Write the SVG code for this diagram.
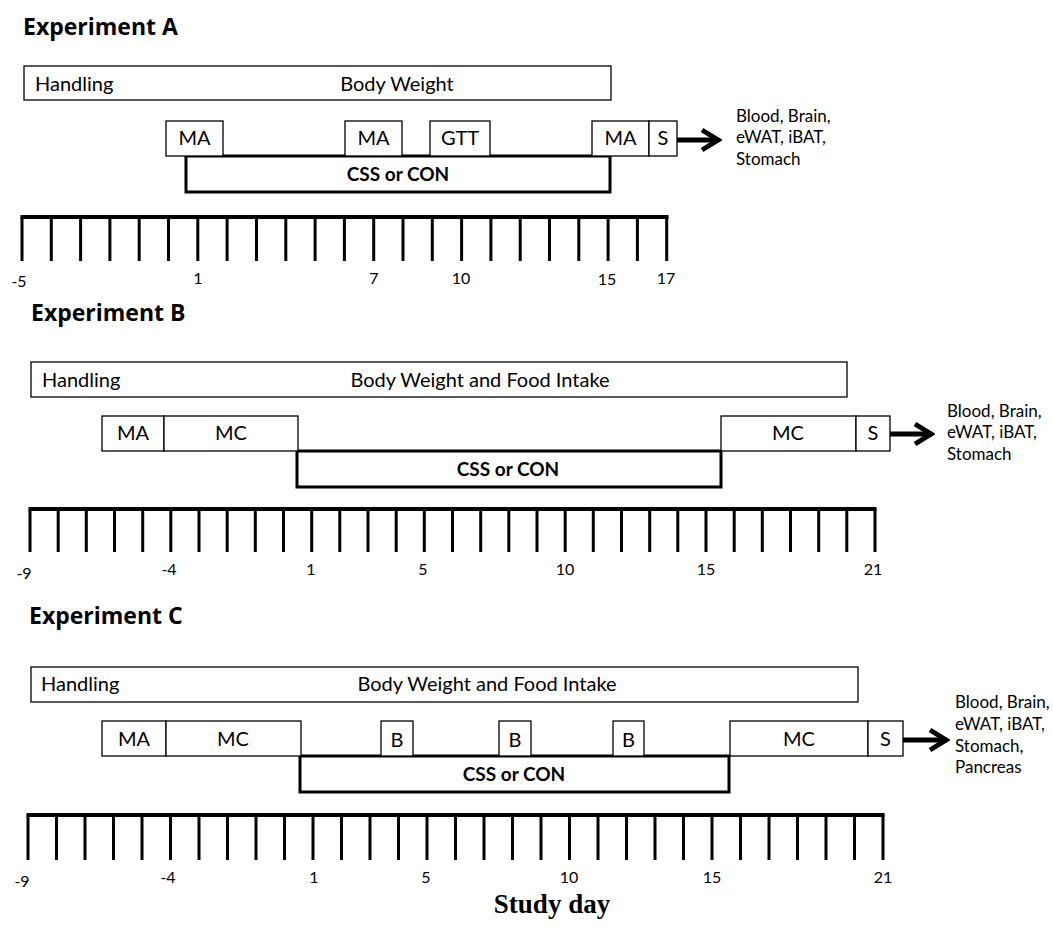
<svg xmlns="http://www.w3.org/2000/svg" width="1053" height="931" viewBox="0 0 1053 931">
<style>
.t{font-family:Lato,"Open Sans","Liberation Sans",sans-serif;font-size:20px;fill:#000}
.h{font-family:"Open Sans",Lato,"Liberation Sans",sans-serif;font-size:23px;font-weight:bold;fill:#000}
.c{font-family:Lato,"Open Sans","Liberation Sans",sans-serif;font-size:19px;font-weight:bold;fill:#000;text-anchor:middle}
.m{text-anchor:middle}
.s{font-family:Lato,"Open Sans","Liberation Sans",sans-serif;font-size:17px;fill:#000}
.n{font-family:Lato,"Open Sans","Liberation Sans",sans-serif;font-size:16px;fill:#000;text-anchor:middle}
.bx{fill:#fff;stroke:#000;stroke-width:1.3}
.bk{fill:#fff;stroke:#000;stroke-width:3}
.ar{fill:none;stroke:#000;stroke-width:5}
.tk{stroke:#000;stroke-width:3}
.bar{stroke:#000;stroke-width:4}
</style>
<defs>
<marker id="chev" viewBox="0 0 24 26" refX="21" refY="13" markerWidth="24" markerHeight="26" orient="auto" markerUnits="userSpaceOnUse">
<path d="M4,3 L20,13 L4,23" fill="none" stroke="#000" stroke-width="5"/>
</marker>
</defs>

<!-- Experiment A -->
<g id="expA">
<text class="h" x="23" y="35">Experiment A</text>
<g id="A-handling"><rect class="bx" x="24" y="66" width="587" height="34"/><text class="t" x="35" y="91">Handling</text><text class="t m" x="397" y="91">Body Weight</text></g>
<g id="A-css"><rect class="bk" x="186" y="156" width="424" height="36"/><text class="c" x="398" y="181">CSS or CON</text></g>
<g id="A-ma1"><rect class="bx" x="166" y="121" width="57" height="35"/><text class="t m" x="194.5" y="145">MA</text></g>
<g id="A-ma2"><rect class="bx" x="345" y="121" width="57" height="35"/><text class="t m" x="373.5" y="145">MA</text></g>
<g id="A-gtt"><rect class="bx" x="430" y="121" width="60" height="35"/><text class="t m" x="460" y="145">GTT</text></g>
<g id="A-ma3"><rect class="bx" x="592" y="121" width="57" height="35"/><text class="t m" x="620.5" y="145">MA</text></g>
<g id="A-s"><rect class="bx" x="649" y="121" width="28" height="35"/><text class="t m" x="663" y="145">S</text></g>
<g id="A-out"><text class="s" x="736" y="122">Blood, Brain,</text><text class="s" x="736" y="143">eWAT, iBAT,</text><text class="s" x="736" y="165">Stomach</text></g>
<g id="A-axis">
<line class="bar" x1="20.5" y1="217" x2="668.5" y2="217"/>
<path class="tk" d="M22,217V261M51.3,217V261M80.6,217V261M109.9,217V261M139.2,217V261M168.5,217V261M197.8,217V261M227.1,217V261M256.5,217V261M285.8,217V261M315.1,217V261M344.4,217V261M373.7,217V261M403,217V261M432.3,217V261M461.6,217V261M490.9,217V261M520.2,217V261M549.5,217V261M578.8,217V261M608.1,217V261M637.4,217V261M666.7,217V261"/>
<text class="n" x="19" y="287">-5</text>
<text class="n" x="198" y="284">1</text>
<text class="n" x="374" y="284">7</text>
<text class="n" x="461" y="284">10</text>
<text class="n" x="607" y="285">15</text>
<text class="n" x="666" y="284">17</text>
</g>
</g>

<!-- Experiment B -->
<g id="expB">
<text class="h" x="31" y="321">Experiment B</text>
<g id="B-handling"><rect class="bx" x="31" y="362" width="816" height="35"/><text class="t" x="42" y="387">Handling</text><text class="t m" x="480" y="387">Body Weight and Food Intake</text></g>
<g id="B-css"><rect class="bk" x="297" y="451" width="424" height="36"/><text class="c" x="508" y="476">CSS or CON</text></g>
<g id="B-ma"><rect class="bx" x="102" y="416" width="62" height="35"/><text class="t m" x="133" y="440">MA</text></g>
<g id="B-mc1"><rect class="bx" x="164" y="416" width="134" height="35"/><text class="t m" x="231" y="440">MC</text></g>
<g id="B-mc2"><rect class="bx" x="721" y="416" width="135" height="35"/><text class="t m" x="788" y="440">MC</text></g>
<g id="B-s"><rect class="bx" x="856" y="416" width="34" height="35"/><text class="t m" x="873" y="440">S</text></g>
<g id="B-out"><text class="s" x="947" y="417">Blood, Brain,</text><text class="s" x="947" y="438">eWAT, iBAT,</text><text class="s" x="947" y="460">Stomach</text></g>
<g id="B-axis">
<line class="bar" x1="28.5" y1="509" x2="876.5" y2="509"/>
<path class="tk" d="M30,509V552M58.2,509V552M86.3,509V552M114.5,509V552M142.7,509V552M170.8,509V552M199,509V552M227.2,509V552M255.3,509V552M283.5,509V552M311.7,509V552M339.8,509V552M368,509V552M396.2,509V552M424.3,509V552M452.5,509V552M480.7,509V552M508.8,509V552M537,509V552M565.2,509V552M593.3,509V552M621.5,509V552M649.7,509V552M677.8,509V552M706,509V552M734.2,509V552M762.3,509V552M790.5,509V552M818.7,509V552M846.8,509V552M875,509V552"/>
<text class="n" x="24" y="579">-9</text>
<text class="n" x="169" y="575">-4</text>
<text class="n" x="311" y="575">1</text>
<text class="n" x="423" y="575">5</text>
<text class="n" x="565" y="575">10</text>
<text class="n" x="706" y="575">15</text>
<text class="n" x="873" y="575">21</text>
</g>
</g>

<!-- Experiment C -->
<g id="expC">
<text class="h" x="29" y="624">Experiment C</text>
<g id="C-handling"><rect class="bx" x="31" y="667" width="827" height="35"/><text class="t" x="41" y="691">Handling</text><text class="t m" x="487" y="691">Body Weight and Food Intake</text></g>
<g id="C-css"><rect class="bk" x="300" y="756" width="429" height="36"/><text class="c" x="514" y="781">CSS or CON</text></g>
<g id="C-ma"><rect class="bx" x="102" y="721" width="64" height="35"/><text class="t m" x="134" y="746">MA</text></g>
<g id="C-mc1"><rect class="bx" x="166" y="721" width="135" height="35"/><text class="t m" x="233" y="746">MC</text></g>
<g id="C-b1"><rect class="bx" x="381" y="721" width="32" height="35"/><text class="t m" x="397" y="747">B</text></g>
<g id="C-b2"><rect class="bx" x="499" y="721" width="32" height="35"/><text class="t m" x="515" y="747">B</text></g>
<g id="C-b3"><rect class="bx" x="613" y="721" width="31" height="35"/><text class="t m" x="628.5" y="747">B</text></g>
<g id="C-mc2"><rect class="bx" x="730" y="721" width="138" height="35"/><text class="t m" x="799" y="746">MC</text></g>
<g id="C-s"><rect class="bx" x="868" y="721" width="35" height="35"/><text class="t m" x="885.5" y="746">S</text></g>
<g id="C-out"><text class="s" x="955" y="708">Blood, Brain,</text><text class="s" x="955" y="730">eWAT, iBAT,</text><text class="s" x="955" y="752">Stomach,</text><text class="s" x="955" y="773">Pancreas</text></g>
<g id="C-axis">
<line class="bar" x1="26.5" y1="815" x2="884.5" y2="815"/>
<path class="tk" d="M28,815V860M56.5,815V860M85,815V860M113.5,815V860M142,815V860M170.5,815V860M199,815V860M227.5,815V860M256,815V860M284.5,815V860M313,815V860M341.5,815V860M370,815V860M398.5,815V860M427,815V860M455.5,815V860M484,815V860M512.5,815V860M541,815V860M569.5,815V860M598,815V860M626.5,815V860M655,815V860M683.5,815V860M712,815V860M740.5,815V860M769,815V860M797.5,815V860M826,815V860M854.5,815V860M883,815V860"/>
<text class="n" x="22" y="887">-9</text>
<text class="n" x="168" y="883">-4</text>
<text class="n" x="314" y="883">1</text>
<text class="n" x="426" y="883">5</text>
<text class="n" x="569" y="883">10</text>
<text class="n" x="712" y="883">15</text>
<text class="n" x="883" y="883">21</text>
</g>
</g>

<g id="connectors">
<line class="ar" x1="677" y1="140" x2="719" y2="140" marker-end="url(#chev)"/>
<line class="ar" x1="890" y1="434" x2="932" y2="434" marker-end="url(#chev)"/>
<line class="ar" x1="903" y1="740" x2="947" y2="740" marker-end="url(#chev)"/>
</g>

<text x="552" y="913" text-anchor="middle" style="font-family:'Liberation Serif',serif;font-size:27px;font-weight:bold">Study day</text>
</svg>
